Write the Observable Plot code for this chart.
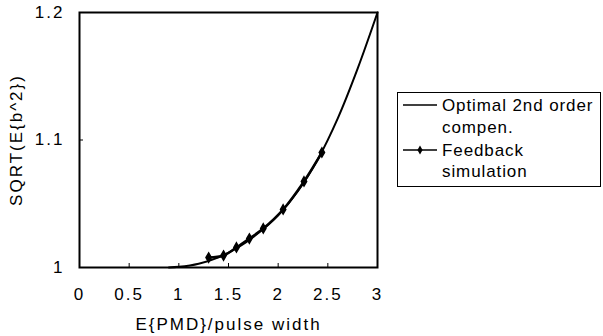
<!DOCTYPE html>
<html>
<head>
<meta charset="utf-8">
<script src="https://cdn.jsdelivr.net/npm/d3@7"></script>
<script src="https://cdn.jsdelivr.net/npm/@observablehq/plot@0.6"></script>
<style>
  html, body { margin: 0; padding: 0; background: #fff; }
  #wrap { position: relative; width: 603px; height: 336px; overflow: hidden; }
  #legend { position: absolute; left: 397px; top: 92px; }
</style>
</head>
<body>
<div id="wrap"></div>
<script>
// ---- data ----
const xTicks = [0, 0.5, 1, 1.5, 2, 2.5, 3];
const yTicks = [1, 1.1, 1.2];
const xLabel = "E{PMD}/pulse width";
const yLabel = "SQRT(E{b^2})";
const seriesNames = ["Optimal 2nd order compen.", "Feedback simulation"];
const legendLines = [["Optimal 2nd order", "compen."], ["Feedback", "simulation"]];

// Optimal 2nd order compensation (curve)
const optX = [0.9, 1.0, 1.2, 1.4, 1.6, 1.8, 2.0, 2.2, 2.4, 2.6, 2.8, 3.0];
const optY = [1.0, 1.0005, 1.003, 1.008, 1.016, 1.027, 1.041, 1.060, 1.085, 1.117, 1.156, 1.2];

// Feedback simulation (markers)
const fbX = [1.30, 1.45, 1.58, 1.71, 1.85, 2.05, 2.26, 2.44];
const fbY = [1.0078, 1.0094, 1.0157, 1.0227, 1.0306, 1.0455, 1.0675, 1.0902];

const opt = optX.map((x, i) => ({x, y: optY[i]}));
const fb = fbX.map((x, i) => ({x, y: fbY[i]}));

const font = "'Liberation Sans', Arial, Helvetica, sans-serif";

const chart = Plot.plot({
  width: 603,
  height: 336,
  marginLeft: 79,
  marginTop: 12,
  marginRight: 226,
  marginBottom: 69,
  style: {fontFamily: font, fontSize: "17px", letterSpacing: "2px", color: "#000", background: "#fff", overflow: "visible"},
  x: {domain: [0, 3]},
  y: {domain: [1, 1.2]},
  marks: [
    Plot.axisX({ticks: xTicks, tickSize: -4, tickPadding: 24, tickFormat: d => String(d),
      label: xLabel, labelAnchor: "center", labelOffset: 62, labelArrow: "none"}),
    Plot.axisY({ticks: yTicks, tickSize: -4, tickPadding: 19, tickFormat: d => d === 1 ? "1" : d.toFixed(1),
      label: yLabel, labelAnchor: "center", labelOffset: 70, labelArrow: "none"}),
    Plot.line(opt, {x: "x", y: "y", stroke: "#000", strokeWidth: 2, curve: "catmull-rom"}),
    Plot.line(fb, {x: "x", y: "y", stroke: "#000", strokeWidth: 2.5, curve: "catmull-rom"}),
    Plot.dot(fb, {x: "x", y: "y", symbol: "diamond", r: 2.8, fill: "#000", stroke: "#000"}),
    Plot.frame({stroke: "#000", strokeWidth: 2})
  ]
});

const wrap = document.getElementById("wrap");
wrap.appendChild(chart);

// ---- legend ----
const lw = 204, lh = 95;
const legend = d3.select(wrap).append("div").attr("id", "legend")
  .append("svg").attr("width", lw).attr("height", lh)
  .style("font-family", font).style("font-size", "17px").style("letter-spacing", "0.9px");
legend.append("rect").attr("x", 0.5).attr("y", 0.5).attr("width", lw - 1).attr("height", lh - 1)
  .attr("fill", "#fff").attr("stroke", "#000").attr("stroke-width", 1);
const rowY = [[13, 35], [58, 79]];
seriesNames.forEach((name, i) => {
  const g = legend.append("g").attr("aria-label", name);
  g.append("line").attr("x1", 6).attr("x2", 40).attr("y1", rowY[i][0]).attr("y2", rowY[i][0])
    .attr("stroke", "#000").attr("stroke-width", 1.5);
  if (i === 1) {
    g.append("path").attr("d", d3.symbol(d3.symbolDiamond, 24)()).attr("transform", `translate(23,${rowY[i][0]})`).attr("fill", "#000");
  }
  legendLines[i].forEach((t, j) => {
    g.append("text").attr("x", 45).attr("y", rowY[i][j]).attr("dy", "0.35em").attr("fill", "#000").text(t);
  });
});
</script>
</body>
</html>
